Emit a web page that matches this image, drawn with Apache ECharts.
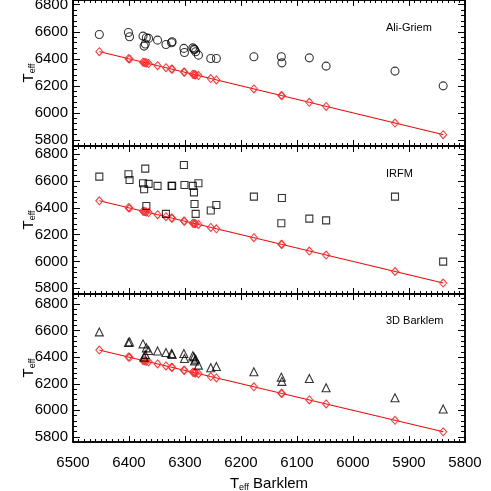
<!DOCTYPE html>
<html>
<head>
<meta charset="utf-8">
<script src="https://cdn.jsdelivr.net/npm/echarts@6/dist/echarts.min.js"></script>
<style>
  html, body { margin: 0; padding: 0; background: #fff; }
  #chart { width: 491px; height: 491px; }
</style>
</head>
<body>
<div id="chart"></div>
<script>
// Teff from Barklem (x axis, also the red reference points)
var teffBarklem = [6453, 6401, 6399, 6375, 6373, 6371, 6369, 6365, 6349, 6334, 6324, 6323, 6302, 6301,
                   6286, 6284, 6283, 6281, 6276, 6254, 6244, 6177, 6128, 6127, 6078, 6048, 5925, 5839];
// Teff from the other calibrations, same star order
var teffAliGriem = [6580, 6595, 6563, 6568, 6494, 6509, 6556, 6551, 6538, 6506, 6519, 6526, 6477, 6447,
                    6481, 6472, 6468, 6452, 6427, 6402, 6402, 6415, 6415, 6370, 6407, 6346, 6309, 6200];
var teffIRFM = [6633, 6651, 6608, 6584, 6539, 6693, 6414, 6579, 6564, 6355, 6564, 6564, 6720, 6571,
                6564, 6516, 6429, 6355, 6584, 6380, 6422, 6484, 6285, 6474, 6320, 6307, 6484, 5999];
var teff3DBarklem = [6590, 6510, 6515, 6500, 6400, 6420, 6470, 6450, 6446, 6435, 6428, 6420, 6428, 6390,
                     6410, 6402, 6372, 6385, 6340, 6320, 6330, 6290, 6250, 6218, 6240, 6170, 6095, 6010];

var panelNames = ['Ali-Griem', 'IRFM', '3D Barklem'];
var panelData = [teffAliGriem, teffIRFM, teff3DBarklem];
var panelSymbols = ['circle', 'rect', 'triangle'];
var symbolSizes = [8, 7, 8];

var font = 'Liberation Sans, Arial, Helvetica, sans-serif';
var gridTops = [0, 146, 294];
var gridHeights = [146, 148, 148];
var yRanges = [[5755, 6835], [5757, 6862], [5762, 6875]];

var myChart = echarts.init(document.getElementById('chart'));

var grids = [], xAxes = [], yAxes = [], series = [], titles = [];

function plain(v) { return String(v); }

for (var i = 0; i < 3; i++) {
  grids.push({
    left: 73, right: 26, top: gridTops[i], height: gridHeights[i],
    outerBoundsMode: 'none', containLabel: false,
    show: true, borderColor: '#000', borderWidth: 1.5, backgroundColor: 'transparent'
  });
  // bottom and top x axes (ticks inside on both)
  ['bottom', 'top'].forEach(function (pos) {
    var isLabelled = (pos === 'bottom' && i === 2);
    xAxes.push({
      type: 'value', gridIndex: i, position: pos, inverse: true,
      min: 5800, max: 6500, interval: 100,
      axisLine: { show: true, onZero: false, lineStyle: { color: '#000', width: 1.5 } },
      axisTick: { show: true, inside: true, length: 6, lineStyle: { color: '#000', width: 1 } },
      minorTick: { show: true, splitNumber: 10, length: 3, lineStyle: { color: '#000', width: 1 } },
      splitLine: { show: false },
      axisLabel: { show: isLabelled, color: '#000', fontSize: 15, fontFamily: font, margin: 13, formatter: plain },
      name: isLabelled ? '{a|T}{b|eff}{a| Barklem}' : '',
      nameLocation: 'middle', nameGap: 34, nameMoveOverlap: false,
      nameTextStyle: {
        rich: {
          a: { fontSize: 15, fontFamily: font, color: '#000' },
          b: { fontSize: 9, fontFamily: font, color: '#000', verticalAlign: 'bottom', padding: [7, 0, 0, 0] }
        }
      }
    });
  });
  // left and right y axes
  ['left', 'right'].forEach(function (pos) {
    var isLeft = pos === 'left';
    yAxes.push({
      type: 'value', gridIndex: i, position: pos,
      min: yRanges[i][0], max: yRanges[i][1], splitNumber: 5,
      axisLine: { show: true, onZero: false, lineStyle: { color: '#000', width: 1.5 } },
      axisTick: { show: true, inside: true, length: 7, lineStyle: { color: '#000', width: 1 } },
      minorTick: { show: true, splitNumber: 5, length: 4, lineStyle: { color: '#000', width: 1 } },
      splitLine: { show: false },
      axisLabel: { show: isLeft, color: '#000', fontSize: 15, fontFamily: font, margin: 5,
                   showMinLabel: false, showMaxLabel: false, formatter: plain },
      name: isLeft ? '{a|T}{b|eff}' : '',
      nameLocation: 'middle', nameGap: 36, nameMoveOverlap: false,
      nameTextStyle: {
        rich: {
          a: { fontSize: 15, fontFamily: font, color: '#000' },
          b: { fontSize: 9, fontFamily: font, color: '#000', verticalAlign: 'bottom', padding: [7, 0, 0, 0] }
        }
      }
    });
  });

  // red reference points: Barklem vs Barklem
  series.push({
    type: 'line', xAxisIndex: i * 2, yAxisIndex: i * 2,
    data: teffBarklem.map(function (t) { return [t, t]; }),
    symbol: 'diamond', symbolSize: [7, 8], showAllSymbol: true,
    lineStyle: { color: '#ff0000', width: 1 },
    itemStyle: { color: 'transparent', borderColor: '#ff3333', borderWidth: 1 },
    z: 2
  });
  // black points for each calibration
  var vals = panelData[i];
  series.push({
    type: 'scatter', xAxisIndex: i * 2, yAxisIndex: i * 2,
    data: teffBarklem.map(function (t, k) { return [t, vals[k]]; }),
    symbol: panelSymbols[i], symbolSize: symbolSizes[i],
    itemStyle: { color: 'transparent', borderColor: '#000', borderWidth: 1.1 },
    z: 3
  });

  titles.push({
    text: panelNames[i], left: 381, top: gridTops[i] + [17, 17, 16][i],
    textStyle: { fontSize: 11, fontWeight: 'normal', fontFamily: font, color: '#000' }
  });
}

myChart.setOption({
  animation: false,
  backgroundColor: '#fff',
  title: titles,
  grid: grids,
  xAxis: xAxes,
  yAxis: yAxes,
  series: series
});
</script>
</body>
</html>
